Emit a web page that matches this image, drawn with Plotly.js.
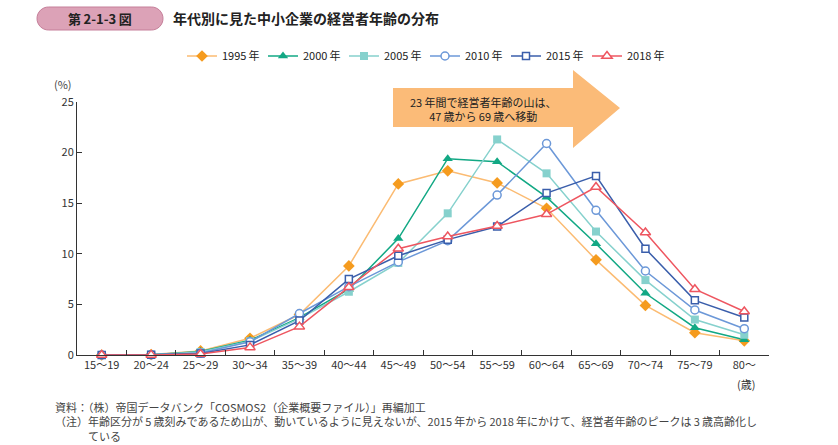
<!DOCTYPE html>
<html>
<head>
<meta charset="utf-8">
<script src="https://cdn.plot.ly/plotly-3.0.1.min.js"></script>
<style>html,body{margin:0;padding:0;background:#fff;}#chart{width:838px;height:445px;}</style>
</head>
<body>
<div id="chart"></div>
<script>
// ---- data ----
const categories = ['15～19','20～24','25～29','30～34','35～39','40～44','45～49','50～54','55～59','60～64','65～69','70～74','75～79','80～'];
const seriesNames = ['1995\u2009年','2000\u2009年','2005\u2009年','2010\u2009年','2015\u2009年','2018\u2009年'];
const y1995 = [0, 0.05, 0.4, 1.65, 4.0, 8.8, 16.9, 18.2, 17.0, 14.5, 9.4, 4.9, 2.2, 1.4];
const y2000 = [0, 0.03, 0.35, 1.45, 3.7, 6.5, 11.5, 19.4, 19.1, 15.6, 11.0, 6.1, 2.7, 1.5];
const y2005 = [0, 0.03, 0.3, 1.35, 3.6, 6.25, 9.1, 14.0, 21.3, 17.95, 12.2, 7.4, 3.5, 2.0];
const y2010 = [0, 0.02, 0.2, 1.3, 4.1, 6.75, 9.2, 11.3, 15.8, 20.9, 14.3, 8.3, 4.45, 2.6];
const y2015 = [0, 0.02, 0.15, 1.0, 3.4, 7.5, 9.8, 11.4, 12.7, 16.0, 17.7, 10.5, 5.4, 3.7];
const y2018 = [0, 0.01, 0.1, 0.75, 2.8, 6.7, 10.5, 11.7, 12.75, 13.9, 16.6, 12.1, 6.5, 4.3];
const yTicks = [0, 5, 10, 15, 20, 25];

// ---- layout constants ----
const W = 838, H = 445;
const L = 77, R = 769, T = 102, B = 355;
const FONT = '"Noto Sans CJK JP", "Noto Sans", sans-serif';
const px = x => (x - L) / (R - L);
const py = y => (B - y) / (B - T);
const TS = '\u2009';
const IS = '\u3000';

const styles = [
  {line: '#FBBB72', marker: '#F59B1E', symbol: 'diamond', size: 9, open: false},
  {line: '#12A884', marker: '#12A884', symbol: 'triangle-up', size: 9, open: false},
  {line: '#86D1CD', marker: '#86D1CD', symbol: 'square', size: 8, open: false},
  {line: '#6C98D8', marker: '#6C98D8', symbol: 'circle', size: 8, open: true},
  {line: '#3A5EAB', marker: '#3A5EAB', symbol: 'square', size: 7, open: true},
  {line: '#EE5660', marker: '#EE5660', symbol: 'triangle-up', size: 9, open: true}
];
const seriesValues = [y1995, y2000, y2005, y2010, y2015, y2018];

const traces = seriesValues.map((vals, i) => {
  const s = styles[i];
  return {
    type: 'scatter', mode: 'lines+markers', name: seriesNames[i],
    x: categories, y: vals,
    line: {color: s.line, width: 1.5},
    marker: s.open
      ? {symbol: s.symbol, size: s.size, color: '#fff', line: {color: s.marker, width: 1.5}}
      : {symbol: s.symbol, size: s.size, color: s.marker, line: {width: 0}},
    cliponaxis: false
  };
});

function pill(x0, y0, x1, y1) {
  const r = (y1 - y0) / 2, k = 0.5523 * r;
  const P = (x, y) => px(x) + ',' + py(y);
  return 'M' + P(x0 + r, y0) + ' L' + P(x1 - r, y0) +
    ' C' + P(x1 - r + k, y0) + ' ' + P(x1, y0 + r - k) + ' ' + P(x1, y0 + r) +
    ' C' + P(x1, y0 + r + k) + ' ' + P(x1 - r + k, y1) + ' ' + P(x1 - r, y1) +
    ' L' + P(x0 + r, y1) +
    ' C' + P(x0 + r - k, y1) + ' ' + P(x0, y0 + r + k) + ' ' + P(x0, y0 + r) +
    ' C' + P(x0, y0 + r - k) + ' ' + P(x0 + r - k, y0) + ' ' + P(x0 + r, y0) + ' Z';
}
function arrowPath() {
  const P = (x, y) => px(x) + ',' + py(y);
  return 'M' + P(393, 88) + ' L' + P(573, 88) + ' L' + P(573, 70) + ' L' + P(620, 108) +
    ' L' + P(573, 148) + ' L' + P(573, 127) + ' L' + P(393, 127) + ' Z';
}

const noteFont = {family: FONT, size: 11, color: '#444'};
const noteText =
  '資料：（株）帝国データバンク「COSMOS2（企業概要ファイル）」再編加工<br>' +
  '（注）年齢区分が' + TS + '5' + TS + '歳刻みであるため山が、動いているように見えないが、' +
  '2015' + TS + '年から' + TS + '2018' + TS + '年にかけて、経営者年齢のピークは' + TS + '3' + TS + '歳高齢化し<br>' +
  IS + IS + IS + 'ている';

const layout = {
  width: W, height: H,
  margin: {l: L, r: W - R, t: T, b: H - B, pad: 0},
  paper_bgcolor: '#fff', plot_bgcolor: '#fff',
  font: {family: FONT, size: 11, color: '#333'},
  showlegend: true,
  legend: {
    orientation: 'h', x: px(182), xanchor: 'left', y: py(56), yanchor: 'middle',
    font: {family: FONT, size: 11, color: '#222'},
    entrywidth: 36, entrywidthmode: 'pixels', itemwidth: 30, tracegroupgap: 0,
    bgcolor: 'rgba(0,0,0,0)'
  },
  xaxis: {
    type: 'category', range: [-0.5, categories.length - 0.5],
    showline: true, linecolor: '#333', linewidth: 1,
    ticks: 'inside', tickson: 'boundaries', ticklen: 5, tickcolor: '#333',
    showgrid: false, zeroline: false, fixedrange: true,
    tickfont: {family: FONT, size: 11, color: '#333'}
  },
  yaxis: {
    range: [0, 25], tickvals: yTicks, ticktext: yTicks.map(String),
    showline: true, linecolor: '#333', linewidth: 1,
    ticks: 'inside', ticklen: 5, tickcolor: '#333',
    showgrid: false, zeroline: false, fixedrange: true,
    tickfont: {family: FONT, size: 11, color: '#333'}
  },
  shapes: [
    {type: 'path', xref: 'paper', yref: 'paper', path: pill(37, 7, 163, 30),
     fillcolor: '#DCA2B7', line: {color: '#C57E99', width: 1}},
    {type: 'path', xref: 'paper', yref: 'paper', path: arrowPath(),
     fillcolor: '#FBBB78', line: {width: 0}, layer: 'below'}
  ],
  annotations: [
    {xref: 'paper', yref: 'paper', x: px(100), y: py(18.5), text: '<b>第' + TS + '2-1-3' + TS + '図</b>', showarrow: false,
     font: {family: FONT, size: 13, color: '#222'}, xanchor: 'center', yanchor: 'middle'},
    {xref: 'paper', yref: 'paper', x: px(171), y: py(18.5), text: '<b>年代別に見た中小企業の経営者年齢の分布</b>', showarrow: false,
     font: {family: FONT, size: 14, color: '#222'}, xanchor: 'left', yanchor: 'middle'},
    {xref: 'paper', yref: 'paper', x: px(483), y: py(109), text: '23' + TS + '年間で経営者年齢の山は、<br>47' + TS + '歳から' + TS + '69' + TS + '歳へ移動', showarrow: false,
     font: {family: FONT, size: 11, color: '#222'}, xanchor: 'center', yanchor: 'middle', align: 'center'},
    {xref: 'paper', yref: 'paper', x: px(63), y: py(84), text: '(%)', showarrow: false,
     font: {family: FONT, size: 11, color: '#444'}, xanchor: 'center', yanchor: 'middle'},
    {xref: 'paper', yref: 'paper', x: px(746), y: py(384), text: '(歳)', showarrow: false,
     font: {family: FONT, size: 11, color: '#333'}, xanchor: 'center', yanchor: 'middle'},
    {xref: 'paper', yref: 'paper', x: px(53), y: py(421), text: noteText, showarrow: false,
     font: noteFont, xanchor: 'left', yanchor: 'middle', align: 'left'}
  ]
};

Plotly.newPlot('chart', traces, layout, {displayModeBar: false, staticPlot: true});
</script>
</body>
</html>
